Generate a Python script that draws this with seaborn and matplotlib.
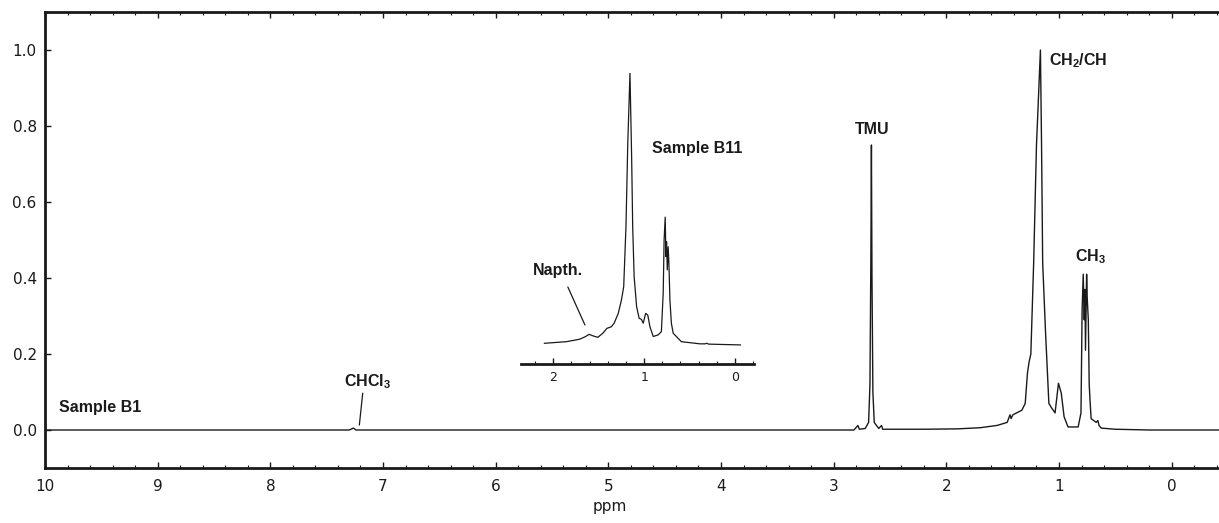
import pandas as pd
import matplotlib.pyplot as plt
import seaborn as sns
from matplotlib.ticker import MultipleLocator

# -----------------------------
# Data (ppm, relative intensity)
# -----------------------------
# Sample B1, full range
ppm_main = [10.0, 7.30, 7.262, 7.24, 2.82, 2.785, 2.772, 2.72, 2.69, 2.678,
            2.67, 2.665, 2.660, 2.652, 2.64, 2.60, 2.575, 2.565, 2.2, 1.9,
            1.70, 1.55, 1.46, 1.435, 1.425, 1.41, 1.33, 1.30, 1.28, 1.265,
            1.25, 1.225, 1.20, 1.19, 1.165, 1.155, 1.145, 1.12, 1.09, 1.07,
            1.035, 1.005, 0.98, 0.955, 0.92, 0.83, 0.805, 0.795, 0.785, 0.776,
            0.77, 0.765, 0.755, 0.75, 0.74, 0.732, 0.725, 0.715, 0.67, 0.655,
            0.645, 0.625, 0.5, 0.2, -0.42]
int_main = [0.0, 0.0, 0.005, 0.0, 0.0, 0.012, 0.002, 0.004, 0.02, 0.12,
            0.45, 0.75, 0.40, 0.10, 0.02, 0.004, 0.012, 0.002, 0.002, 0.003,
            0.006, 0.012, 0.02, 0.04, 0.03, 0.04, 0.052, 0.07, 0.15, 0.18,
            0.20, 0.44, 0.75, 0.82, 1.0, 0.75, 0.44, 0.26, 0.07, 0.06,
            0.045, 0.123, 0.097, 0.035, 0.008, 0.008, 0.045, 0.315, 0.41, 0.29,
            0.37, 0.21, 0.41, 0.35, 0.29, 0.12, 0.08, 0.03, 0.02, 0.025,
            0.012, 0.005, 0.002, 0.0, 0.0]

# Sample B11, inset (0 - 2.1 ppm)
ppm_inset = [2.10, 1.855, 1.71, 1.65, 1.605, 1.56, 1.51, 1.455, 1.41, 1.36,
             1.33, 1.285, 1.25, 1.225, 1.20, 1.18, 1.156, 1.137, 1.126, 1.11,
             1.083, 1.055, 1.03, 1.01, 0.983, 0.96, 0.936, 0.90, 0.845, 0.81,
             0.79, 0.78, 0.768, 0.76, 0.753, 0.745, 0.735, 0.727, 0.716, 0.70,
             0.68, 0.645, 0.59, 0.385, 0.33, 0.31, 0.29, -0.063]
int_inset = [0.006, 0.012, 0.021, 0.030, 0.039, 0.033, 0.028, 0.043, 0.061, 0.067,
             0.08, 0.116, 0.165, 0.214, 0.435, 0.742, 1.0, 0.68, 0.435, 0.251,
             0.141, 0.098, 0.094, 0.08, 0.116, 0.11, 0.067, 0.031, 0.037, 0.049,
             0.19, 0.386, 0.47, 0.325, 0.38, 0.276, 0.361, 0.30, 0.165, 0.08,
             0.043, 0.031, 0.012, 0.004, 0.004, 0.006, 0.003, 0.0]

df_main = pd.DataFrame({"ppm": ppm_main, "intensity": int_main})
df_inset = pd.DataFrame({"ppm": ppm_inset, "intensity": int_inset})

# -----------------------------
# Style
# -----------------------------
sns.set_style("ticks")
plt.rcParams["font.family"] = ["DejaVu Sans"]
plt.rcParams["mathtext.fontset"] = "custom"
plt.rcParams["mathtext.bf"] = "Liberation Sans:bold"
plt.rcParams["mathtext.rm"] = "Liberation Sans"

label_font = dict(family=["Liberation Sans", "DejaVu Sans"], fontweight="bold",
                  fontsize=11.5, color="#1a1a1a")
line_color = "#1a1a1a"

fig = plt.figure(figsize=(12.19, 5.23), dpi=100)
ax = fig.add_axes([45 / 1219, 55 / 523, 1174 / 1219, 456 / 523])

sns.lineplot(data=df_main, x="ppm", y="intensity", ax=ax, sort=False,
             estimator=None, color=line_color, linewidth=1.0)

ax.set_xlim(10, -0.42)
ax.set_ylim(-0.1, 1.1)
ax.xaxis.set_major_locator(MultipleLocator(1))
ax.xaxis.set_minor_locator(MultipleLocator(0.2))
ax.yaxis.set_major_locator(MultipleLocator(0.2))
ax.tick_params(axis="both", which="both", direction="in", top=True,
               right=False, color="#1a1a1a", labelsize=11, labelcolor="#1a1a1a")
ax.tick_params(axis="both", which="major", length=4.5, width=1.0)
ax.tick_params(axis="both", which="minor", length=2.5, width=0.8)
ax.tick_params(axis="x", pad=8)
ax.tick_params(axis="y", pad=6)
ax.set_yticks([0.0, 0.2, 0.4, 0.6, 0.8, 1.0])
ax.set_yticklabels(["0.0", "0.2", "0.4", "0.6", "0.8", "1.0"])
for side in ["left", "bottom", "top"]:
    ax.spines[side].set_linewidth(2.0)
    ax.spines[side].set_color("#1a1a1a")
ax.spines["right"].set_visible(False)

ax.set_xlabel("ppm", fontsize=11, color="#1a1a1a")
ax.xaxis.set_label_coords(0.481, -0.068)
ax.set_ylabel("")

# Labels on the main spectrum
ax.text(9.876, 0.058, "Sample B1", ha="left", va="center", **label_font)
ax.text(7.14, 0.1156, r"CHCl$_\mathbf{3}$", ha="center", va="baseline", **label_font)
ax.plot([7.18, 7.21], [0.097, 0.013], color=line_color, linewidth=0.9)
ax.text(2.66, 0.779, "TMU", ha="center", va="baseline", **label_font)
ax.text(1.091, 0.959, r"CH$_\mathbf{2}$/CH", ha="left", va="baseline", **label_font)
ax.text(0.861, 0.445, r"CH$_\mathbf{3}$", ha="left", va="baseline", **label_font)

# -----------------------------
# Inset: Sample B11
# -----------------------------
ins = fig.add_axes([521 / 1219, 159.3 / 523, 233 / 1219, 290.7 / 523])
ins.patch.set_visible(False)
sns.lineplot(data=df_inset, x="ppm", y="intensity", ax=ins, sort=False,
             estimator=None, color=line_color, linewidth=0.9)
ins.set_xlim(2.356, -0.21)
ins.set_ylim(-0.069, 1.0)
ins.xaxis.set_major_locator(MultipleLocator(1))
ins.xaxis.set_minor_locator(MultipleLocator(0.2))
ins.set_yticks([])
ins.set_xlabel("")
ins.set_ylabel("")
for side in ["left", "right", "top"]:
    ins.spines[side].set_visible(False)
ins.spines["bottom"].set_linewidth(2.0)
ins.spines["bottom"].set_color("#1a1a1a")
ins.tick_params(axis="x", which="both", direction="in", color="#1a1a1a",
                labelsize=9, labelcolor="#1a1a1a", pad=5)
ins.tick_params(axis="x", which="major", length=4, width=1.0)
ins.tick_params(axis="x", which="minor", length=2.5, width=0.8)

ins.text(0.914, 0.705, "Sample B11", ha="left", va="baseline", **label_font)
ins.text(2.228, 0.257, "Napth.", ha="left", va="baseline", **label_font)
ins.plot([1.84, 1.652], [0.213, 0.0735], color=line_color, linewidth=0.9)

plt.savefig("out.png", dpi=100)
plt.close()
